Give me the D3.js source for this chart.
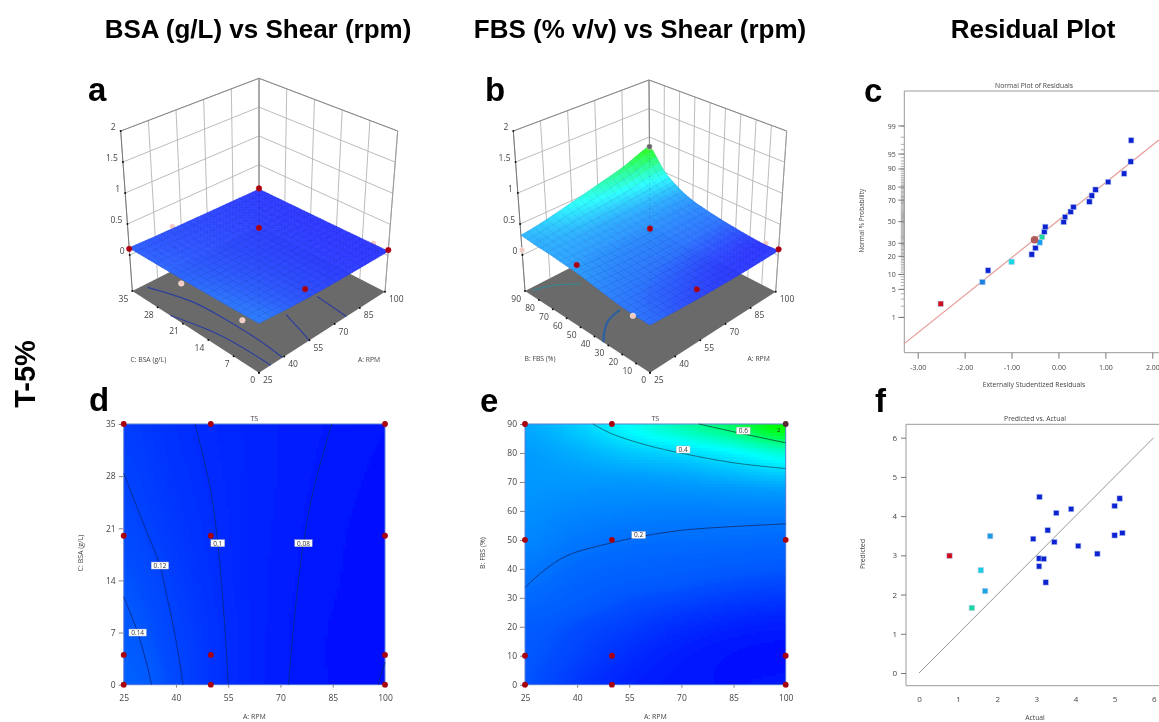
<!DOCTYPE html>
<html><head><meta charset="utf-8">
<script src="https://cdn.jsdelivr.net/npm/d3@7"></script>
<style>
html,body{margin:0;padding:0;background:#fff;overflow:hidden}
svg{display:block}
text{font-family:"Open Sans",sans-serif;fill:#444}
.head{font-family:"Liberation Sans",sans-serif;font-weight:700;fill:#000}
</style></head><body>
<svg id="c" width="1159" height="722"></svg>
<script>
// ---------- values ----------
const headers=["BSA (g/L) vs Shear (rpm)","FBS (% v/v) vs Shear (rpm)","Residual Plot"];
const rowLabel="T-5%";
const rpmTicks=[25,40,55,70,85,100];
const bsaTicks=[0,7,14,21,28,35];
const fbsTicks=[0,10,20,30,40,50,60,70,80,90];
const zTicks=[0,0.5,1,1.5,2];
// response TS, rows = BSA ticks, columns = RPM ticks
const tsBsa=[
[.16,.125,.100,.085,.075,.070],
[.145,.120,.100,.085,.075,.070],
[.135,.115,.098,.086,.077,.070],
[.125,.110,.097,.087,.078,.072],
[.120,.106,.096,.088,.080,.074],
[.115,.103,.095,.088,.082,.076]];
// response TS, rows = FBS ticks, columns = RPM ticks
const tsFbs=[
[.135,.110,.090,.080,.075,.080],
[.140,.120,.100,.085,.075,.070],
[.150,.130,.115,.100,.090,.085],
[.180,.155,.135,.125,.115,.110],
[.215,.180,.165,.155,.145,.140],
[.250,.215,.195,.190,.185,.180],
[.270,.250,.240,.235,.235,.235],
[.290,.290,.290,.300,.320,.340],
[.300,.330,.370,.400,.450,.520],
[.320,.380,.470,.570,.680,.840]];
// contours in data coordinates [rpm, factor]
const contBsa=[
{level:"0.14",pts:[[33,0],[31.5,3],[29,7],[27,9.5],[25,11.8]],at:[29,7]},
{level:"0.12",pts:[[42,0],[40,6],[37,12.7],[35.4,16],[30.6,21.7],[25,28.4]],at:[35.4,16]},
{level:"0.1",pts:[[55,0],[54,8],[52,19],[50,26],[45.5,35]],at:[52,19]},
{level:"0.08",pts:[[72.3,0],[74,9],[76.6,19],[79.4,26],[84.7,35]],at:[76.6,19]},
{level:"",pts:[[98,0],[100,3]],at:null}];
const contFbs=[
{level:"0.2",pts:[[25,33.5],[30,39],[37,44.5],[50,49],[57.7,51],[70,53.3],[85,54.6],[100,55.5]],at:[57.7,51.7],col:"#10337c"},
{level:"0.4",pts:[[44.5,90],[50,86.6],[60,82.7],[70.5,79.8],[85,76.6],[100,74.6]],at:[70.5,81.2],col:"#0b6b78"},
{level:"0.6",pts:[[75,90],[87,86.8],[100,83.5]],at:[87.8,87.7],col:"#0a5a3a"},
{level:"2",pts:[],at:[98,88],col:"#000"}];
const floorContBsa=[
{pts:[[32,34],[39,24.7],[40.4,16],[40.3,6.9],[39,0]]},
{pts:[[25,24.5],[31,13.5],[32,0]]},
{pts:[[55,0],[61,9.3]]},
{pts:[[77,0],[79,9]]}];
const floorContFbs=[
{pts:[[28,88],[38,84],[47,76]],col:"#2c8a9a",w:1},
{pts:[[25,33.5],[30,39],[37,44.5],[46,47]],col:"#2f5f9f",w:2.4}];
const design2dBsa=[[25,35],[50,35],[100,35],[25,20],[50,20],[100,20],[25,4],[50,4],[100,4],[25,0],[50,0],[100,0]];
const design2dFbs=[[25,90],[50,90],[100,90],[25,50],[50,50],[100,50],[25,10],[50,10],[100,10],[25,0],[50,0],[100,0]];
// 3D points [rpm, factor, response, kind]
const pts3dBsa=[[50,35,.134,"p"],[100,4,.083,"p"],[25,21,.05,"q"],[25,4.5,.055,"q"],[25,35,.10,"r"],[100,35,.09,"r"],[62.5,17.5,.51,"r"],[56,2,.13,"r"],[100,0,.09,"r"]];
const pts3dFbs=[[25,90,.08,"q"],[100,9,.10,"p"],[25,12,.117,"q"],[25,51,.38,"r"],[62.5,45,.5,"r"],[56,4.5,.135,"r"],[100,0,.10,"r"],[100,90,.83,"g"]];
// normal plot: studentized residual, probability %, colour
const normalX=[-2.51,-1.62,-1.50,-1.00,-.57,-.49,-.40,-.35,-.30,-.28,.11,.14,.26,.32,.66,.71,.79,1.06,1.40,1.54,1.55];
const normalP=[2.3,7.1,11.8,16.5,21.3,26.1,30.7,35.5,40.4,45,49.7,54.5,59.6,63.9,68.7,73.7,78.2,83.3,87.9,92.8,97.6];
const normalC=["#d0101c","#1a80e0","#0a20d0","#14d8e0","#0a20d0","#0a20d0","#18a0f0","#18d8a0","#0a20d0","#0a20d0","#0a20d0","#0a20d0","#0a20d0","#0a20d0","#0a20d0","#0a20d0","#0a20d0","#0a20d0","#0a20d0","#0a20d0","#0a20d0"];
const probTicks=[1,5,10,20,30,50,70,80,90,95,99];
const normalLineX=[-3.30,2.14];
const normalLineP=[.146,97.65];
const normalCircle=[-.51,33];
const resTicks=[-3,-2,-1,0,1,2];
// predicted vs actual
const actual=[.78,1.82,1.58,1.69,1.35,2.92,3.08,3.29,3.51,3.89,3.46,3.07,3.19,3.07,3.24,4.07,4.56,5.00,5.13,5.00,5.20];
const predicted=[2.99,3.49,2.62,2.09,1.66,3.42,4.49,3.64,4.08,4.18,3.34,2.92,2.91,2.72,2.31,3.24,3.04,4.26,4.45,3.51,3.57];
const predC=["#d0101c","#1a9ae0","#14d0e0","#18a8e0","#18d8a0","#0a20d0","#0a20d0","#0a20d0","#0a20d0","#0a20d0","#0a20d0","#0a20d0","#0a20d0","#0a20d0","#0a20d0","#0a20d0","#0a20d0","#0a20d0","#0a20d0","#0a20d0","#0a20d0"];
const sixTicks=[0,1,2,3,4,5,6];

// ---------- helpers ----------
const svg=d3.select("#c");
const defs=svg.append("defs");
defs.append("filter").attr("id","soft")
 .attr("filterUnits","userSpaceOnUse").attr("x",0).attr("y",0).attr("width",1159).attr("height",722)
 .append("feGaussianBlur").attr("stdDeviation",0.7);
const root=svg.append("g").attr("filter","url(#soft)");
const colorScale=d3.scaleLinear().domain([.06,.14,.30,.46,.8]).range(["#0000ff","#0058ff","#009cff","#00ffff","#00ff00"]).clamp(true);
function cr(a,b,c,d,t){return .5*(2*b+(c-a)*t+(2*a-5*b+4*c-d)*t*t+(3*b-a-3*c+d)*t*t*t);}
function interp1(arr,t){ // t in index units
  const n=arr.length-1,i=Math.max(0,Math.min(n-1,Math.floor(t))),f=t-i;
  const g=k=>arr[Math.max(0,Math.min(n,k))];
  return cr(g(i-1),g(i),g(i+1),g(i+2),f);
}
function gridFn(grid,xTicks,yTicks){
  const xi=d3.scaleLinear().domain(d3.extent(xTicks)).range([0,xTicks.length-1]);
  const yi=d3.scaleLinear().domain(d3.extent(yTicks)).range([0,yTicks.length-1]);
  return (x,y)=>interp1(grid.map(r=>interp1(r,xi(x))),yi(y));
}
function txt(g,x,y,s,o={}){
  const t=g.append("text").attr("x",x).attr("y",y).text(s)
   .attr("font-size",o.size||8).attr("text-anchor",o.anchor||"middle")
   .attr("dominant-baseline","central").style("fill",o.fill||"#444");
  if(o.rot)t.attr("transform",`rotate(${o.rot} ${x} ${y})`);
  return t;
}
function letter(s,x,y){root.append("text").attr("class","head").attr("x",x).attr("y",y).attr("font-size",33).text(s);}

// ---------- headers ----------
[[258,0],[640,1],[1033,2]].forEach(([x,i])=>root.append("text").attr("class","head").attr("x",x).attr("y",38).attr("font-size",26).attr("text-anchor","middle").text(headers[i]));
root.append("text").attr("class","head").attr("font-size",29).attr("text-anchor","middle")
 .attr("transform","translate(35,374) rotate(-90)").text(rowLabel);
letter("a",88,101);letter("b",485,101);letter("c",864,102);letter("d",89,411);letter("e",480,412);letter("f",875,412);

// ---------- 3D panels ----------
function surface3d(o){
  const g=root.append("g");
  const zFloor=-.58;
  const uS=d3.scaleLinear().domain(d3.extent(o.xTicks)).range([0,1]);
  const vS=d3.scaleLinear().domain(d3.extent(o.yTicks)).range([0,1]);
  const wS=d3.scaleLinear().domain([zFloor,2]).range([0,1]);
  const bl=(c,u,v)=>[0,1].map(i=>(1-u)*(1-v)*c.front[i]+u*(1-v)*c.right[i]+(1-u)*v*c.left[i]+u*v*c.back[i]);
  const P=(x,y,z)=>{const u=uS(x),v=vS(y),w=wS(z),a=bl(o.floor,u,v),b=bl(o.top,u,v);return [a[0]+(b[0]-a[0])*w,a[1]+(b[1]-a[1])*w];};
  const xMin=o.xTicks[0],xMax=o.xTicks[o.xTicks.length-1],yMin=o.yTicks[0],yMax=o.yTicks[o.yTicks.length-1];
  const seg=(a,b,c,w)=>g.append("line").attr("x1",a[0]).attr("y1",a[1]).attr("x2",b[0]).attr("y2",b[1]).attr("stroke",c).attr("stroke-width",w);
  // walls
  o.xTicks.forEach(t=>seg(P(t,yMax,zFloor),P(t,yMax,2),"#b4b4b4",.9));
  o.yTicks.forEach(t=>seg(P(xMax,t,zFloor),P(xMax,t,2),"#b4b4b4",.9));
  zTicks.forEach(z=>{seg(P(xMin,yMax,z),P(xMax,yMax,z),"#b4b4b4",.9);seg(P(xMax,yMax,z),P(xMax,yMin,z),"#b4b4b4",.9);});
  seg(P(xMin,yMax,2),P(xMax,yMax,2),"#888",1);seg(P(xMax,yMax,2),P(xMax,yMin,2),"#888",1);
  seg(P(xMin,yMax,zFloor),P(xMin,yMax,2),"#777",1);seg(P(xMax,yMin,zFloor),P(xMax,yMin,2),"#999",1);seg(P(xMax,yMax,zFloor),P(xMax,yMax,2),"#888",1);
  // floor
  const f=[P(xMin,yMin,zFloor),P(xMax,yMin,zFloor),P(xMax,yMax,zFloor),P(xMin,yMax,zFloor)];
  g.append("polygon").attr("points",f.join(" ")).attr("fill","#6b6b6b");
  const flat=d3.line().x(d=>P(d[0],d[1],zFloor)[0]).y(d=>P(d[0],d[1],zFloor)[1]).curve(d3.curveCatmullRom);
  o.floorLines.forEach(c=>g.append("path").attr("d",flat(c.pts)).attr("fill","none").attr("stroke",c.col||"#2c3f9c").attr("stroke-width",c.w||1.2));
  // axis ticks
  const dot=(p,r)=>g.append("circle").attr("cx",p[0]).attr("cy",p[1]).attr("r",r||1).attr("fill","#111");
  zTicks.forEach(z=>{const p=P(xMin,yMax,z);dot(p);txt(g,p[0]-5,p[1]-5,String(z),{anchor:"end",size:8.5});});
  o.xTicks.forEach(t=>{const p=P(t,yMin,zFloor);dot(p);txt(g,p[0]+4,p[1]+7,String(t),{anchor:"start",size:8.5});});
  o.yTicks.forEach(t=>{const p=P(xMin,t,zFloor);dot(p);txt(g,p[0]-4,p[1]+7,String(t),{anchor:"end",size:8.5});});
  txt(g,o.xLabel[1],o.labY,o.xLabel[0],{size:6.8});
  txt(g,o.yLabel[1],o.labY,o.yLabel[0],{size:6.8});
  const ptColor={r:"#a80010",p:"#f3c9c0",q:"#f3c9c0",g:"#666"};
  const drawPts=k=>o.pts.filter(d=>k.includes(d[3])).forEach(d=>{
    const p=P(d[0],d[1],d[2]);
    g.append("circle").attr("cx",p[0]).attr("cy",p[1]).attr("r",2.8).attr("fill",ptColor[d[3]]).attr("stroke",d[3]=="r"?"#c01020":"#fff").attr("stroke-width",.4);
  });
  drawPts(["p"]);
  // surface as quads
  const n=40,m=20,xs=d3.range(n+1).map(i=>xMin+(xMax-xMin)*i/n),ys=d3.range(n+1).map(i=>yMin+(yMax-yMin)*i/n);
  const tint=c=>d3.interpolateRgb(c,"#ffffff")(.18);
  const quads=[];
  for(let j=n-1;j>=0;j--)for(let i=n-1;i>=0;i--)quads.push([i,j]);
  const qc=([i,j])=>tint(colorScale(o.fn(xs[i]+(xs[1]-xs[0])/2,ys[j]+(ys[1]-ys[0])/2)));
  g.append("g").selectAll("polygon").data(quads).join("polygon")
   .attr("points",([i,j])=>[[i,j],[i+1,j],[i+1,j+1],[i,j+1]].map(([a,b])=>P(xs[a],ys[b],o.fn(xs[a],ys[b]))).join(" "))
   .attr("fill",qc).attr("stroke",qc).attr("stroke-width",.6);
  const mesh=d3.line();
  d3.range(0,n+1,n/m).forEach(k=>{
    g.append("path").attr("d",mesh(ys.map(y=>P(xs[k],y,o.fn(xs[k],y))))).attr("fill","none").attr("stroke","#000050").attr("stroke-opacity",.13).attr("stroke-width",.6);
    g.append("path").attr("d",mesh(xs.map(x=>P(x,ys[k],o.fn(x,ys[k]))))).attr("fill","none").attr("stroke","#000050").attr("stroke-opacity",.13).attr("stroke-width",.6);
  });
  seg(P(xMax,yMax,o.fn(xMax,yMax)),P(xMin,yMin,o.fn(xMin,yMin)),"rgba(0,0,60,.18)",.7).attr("stroke-dasharray","1 2");
  drawPts(["q","r","g"]);
}
surface3d({xTicks:rpmTicks,yTicks:bsaTicks,fn:gridFn(tsBsa,rpmTicks,bsaTicks),
  floor:{front:[259,372.7],right:[385,291.7],left:[132.3,291],back:[259,227]},
  top:{front:[259,200.7],right:[397.7,131],left:[120.7,131],back:[259,78.3]},
  floorLines:floorContBsa,pts:pts3dBsa,xLabel:["A: RPM",369],yLabel:["C: BSA (g/L)",148.3],labY:359.3});
surface3d({xTicks:rpmTicks,yTicks:fbsTicks,fn:gridFn(tsFbs,rpmTicks,fbsTicks),
  floor:{front:[650,372.7],right:[775.7,291.7],left:[525,291],back:[650,227]},
  top:{front:[650,200.7],right:[786.7,131],left:[513.3,131],back:[649,80]},
  floorLines:floorContFbs,pts:pts3dFbs,xLabel:["A: RPM",758.7],yLabel:["B: FBS (%)",540],labY:358.7});

// ---------- contour maps ----------
function heat(o){
  const g=root.append("g");
  const x=d3.scaleLinear().domain(d3.extent(o.xTicks)).range([o.x0,o.x1]);
  const y=d3.scaleLinear().domain(d3.extent(o.yTicks)).range([o.y0,o.y1]);
  const step=3,cells=[];
  for(let px=o.x0;px<o.x1;px+=step)for(let py=o.y1;py<o.y0;py+=step)cells.push([px,py]);
  g.append("g").attr("shape-rendering","crispEdges").selectAll("rect").data(cells).join("rect")
   .attr("x",d=>d[0]).attr("y",d=>d[1])
   .attr("width",d=>Math.min(step+.5,o.x1-d[0])).attr("height",d=>Math.min(step+.5,o.y0-d[1]))
   .attr("fill",d=>colorScale(o.fn(x.invert(d[0]+step/2),y.invert(d[1]+step/2))));
  g.append("rect").attr("x",o.x0).attr("y",o.y1).attr("width",o.x1-o.x0).attr("height",o.y0-o.y1).attr("fill","none").attr("stroke","#5a80d8").attr("stroke-width",1);
  const line=d3.line().x(d=>x(d[0])).y(d=>y(d[1])).curve(d3.curveCatmullRom);
  o.cont.forEach(c=>{if(c.pts.length)g.append("path").attr("d",line(c.pts)).attr("fill","none").attr("stroke",c.col||"#0a2a8a").attr("stroke-width",.9);});
  const ax=g.append("g").attr("transform",`translate(0,${o.y0})`).call(d3.axisBottom(x).tickValues(o.xTicks).tickFormat(d3.format("d")).tickSize(3).tickPadding(7));
  const ay=g.append("g").attr("transform",`translate(${o.x0},0)`).call(d3.axisLeft(y).tickValues(o.yTicks).tickFormat(d3.format("d")).tickSize(5).tickPadding(3));
  [ax,ay].forEach(a=>{a.select(".domain").remove();a.selectAll("line").attr("stroke","#888");a.selectAll("text").attr("font-size",8.5).style("font-family",'"Open Sans"').style("fill","#444");});
  txt(g,(o.x0+o.x1)/2,418,"TS",{size:7});
  txt(g,(o.x0+o.x1)/2,716,"A: RPM",{size:7});
  txt(g,o.ylx,553,o.ylab,{size:7,rot:-90});
  o.cont.forEach(c=>{if(!c.at)return;
    const px=x(c.at[0]),py=y(c.at[1]);
    if(c.level==="2"){txt(g,px,py,c.level,{size:6,fill:"#222"});return;}
    const w=c.level.length*3.6+3;
    g.append("rect").attr("x",px-w/2).attr("y",py-3.5).attr("width",w).attr("height",7).attr("fill","#fff").attr("stroke","#aaa").attr("stroke-width",.4);
    txt(g,px,py,c.level,{size:6.5,fill:"#333"});
  });
  o.pts.forEach(d=>g.append("circle").attr("cx",x(d[0])).attr("cy",y(d[1])).attr("r",2.9).attr("fill",(d[0]==100&&d[1]==90)?"#5a2a30":"#a80010"));
}
heat({xTicks:rpmTicks,yTicks:bsaTicks,fn:gridFn(tsBsa,rpmTicks,bsaTicks),x0:123.7,x1:385,y0:684.7,y1:424,cont:contBsa,pts:design2dBsa,ylab:"C: BSA (g/L)",ylx:80});
heat({xTicks:rpmTicks,yTicks:fbsTicks,fn:gridFn(tsFbs,rpmTicks,fbsTicks),x0:525,x1:785.7,y0:684.7,y1:424,cont:contFbs,pts:design2dFbs,ylab:"B: FBS (%)",ylx:482.3});

// ---------- normal plot ----------
function probit(p){
 const a=[-3.969683028665376e+01,2.209460984245205e+02,-2.759285104469687e+02,1.383577518672690e+02,-3.066479806614716e+01,2.506628277459239e+00],
 b=[-5.447609879822406e+01,1.615858368580409e+02,-1.556989798598866e+02,6.680131188771972e+01,-1.328068155288572e+01],
 c=[-7.784894002430293e-03,-3.223964580411365e-01,-2.400758277161838e+00,-2.549732539343734e+00,4.374664141464968e+00,2.938163982698783e+00],
 d=[7.784695709041462e-03,3.224671290700398e-01,2.445134137142996e+00,3.754408661907416e+00];
 const tailN=q=>(((((c[0]*q+c[1])*q+c[2])*q+c[3])*q+c[4])*q+c[5])/((((d[0]*q+d[1])*q+d[2])*q+d[3])*q+1);
 if(p<.02425)return tailN(Math.sqrt(-2*Math.log(p)));
 if(p>1-.02425)return -tailN(Math.sqrt(-2*Math.log(1-p)));
 const q=p-.5,r=q*q;
 return (((((a[0]*r+a[1])*r+a[2])*r+a[3])*r+a[4])*r+a[5])*q/(((((b[0]*r+b[1])*r+b[2])*r+b[3])*r+b[4])*r+1);
}
function frame(g,x0,y0,y1){
  g.append("path").attr("d",`M1165,${y1}H${x0}V${y0}H1165`).attr("fill","none").attr("stroke","#999").attr("stroke-width",1);
}
function square(g,cx,cy,c){
  g.append("rect").attr("x",cx-2.7).attr("y",cy-2.7).attr("width",5.4).attr("height",5.4).attr("fill",c).attr("stroke","#b8c8f0").attr("stroke-width",.6);
}
(function(){
  const g=root.append("g");
  const x0=904.3,y0=352.7,y1=91;
  const x=d3.scaleLinear().domain([-3,2]).range([917.7,1152.3]);
  const yz=d3.scaleLinear().domain([0,probit(.99)]).range([221.7,126]);
  const y=p=>yz(probit(p/100));
  frame(g,x0,y0,y1);
  d3.range(1,100).forEach(p=>g.append("line").attr("x1",x0-3.5).attr("x2",x0).attr("y1",y(p)).attr("y2",y(p)).attr("stroke","#888").attr("stroke-width",.7));
  const ay=g.append("g").attr("transform",`translate(${x0},0)`);
  probTicks.forEach(p=>{ay.append("line").attr("x1",-6).attr("x2",0).attr("y1",y(p)).attr("y2",y(p)).attr("stroke","#777");txt(ay,-8.5,y(p),String(p),{anchor:"end",size:7});});
  const ax=g.append("g").attr("transform",`translate(0,${y0})`).call(d3.axisBottom(x).tickValues(resTicks).tickFormat(d=>d.toFixed(2)).tickSize(6).tickPadding(6));
  ax.select(".domain").remove();ax.selectAll("line").attr("stroke","#777");ax.selectAll("text").attr("font-size",7).style("font-family",'"Open Sans"').style("fill","#444");
  txt(g,1034,85,"Normal Plot of Residuals",{size:6.8});
  txt(g,1034,384,"Externally Studentized Residuals",{size:6.8});
  txt(g,862,220.7,"Normal % Probability",{size:6.5,rot:-90});
  defs.append("clipPath").attr("id","cp").append("rect").attr("x",x0-1).attr("y",y1).attr("width",270).attr("height",y0-y1);
  g.append("line").attr("clip-path","url(#cp)").attr("x1",x(normalLineX[0])).attr("y1",y(normalLineP[0])).attr("x2",x(normalLineX[1])).attr("y2",y(normalLineP[1])).attr("stroke","#e59a98").attr("stroke-width",1.1);
  normalX.forEach((v,i)=>square(g,x(v),y(normalP[i]),normalC[i]));
  g.append("circle").attr("cx",x(normalCircle[0])).attr("cy",y(normalCircle[1])).attr("r",3.8).attr("fill","#b05a5c");
})();

// ---------- predicted vs actual ----------
(function(){
  const g=root.append("g");
  const x0=906,y0=685.7,y1=424.3;
  const x=d3.scaleLinear().domain([0,6]).range([919,1153.7]);
  const y=d3.scaleLinear().domain([0,6]).range([673,437.7]);
  frame(g,x0,y0,y1);
  const ay=g.append("g").attr("transform",`translate(${x0},0)`).call(d3.axisLeft(y).tickValues(sixTicks).tickFormat(d3.format("d")).tickSize(5).tickPadding(4));
  const ax=g.append("g").attr("transform",`translate(0,${y0})`).call(d3.axisBottom(x).tickValues(sixTicks).tickFormat(d3.format("d")).tickSize(0).tickPadding(11));
  [ax,ay].forEach(a=>{a.select(".domain").remove();a.selectAll("line").attr("stroke","#777");a.selectAll("text").attr("font-size",8).style("font-family",'"Open Sans"').style("fill","#444");});
  txt(g,1035,418.7,"Predicted vs. Actual",{size:6.8});
  txt(g,1035,717.7,"Actual",{size:6.8});
  txt(g,862.7,554,"Predicted",{size:6.8,rot:-90});
  g.append("line").attr("x1",x(0)).attr("y1",y(0)).attr("x2",x(6)).attr("y2",y(6)).attr("stroke","#8a8a8a").attr("stroke-width",.9);
  actual.forEach((v,i)=>square(g,x(v),y(predicted[i]),predC[i]));
})();
</script>
</body></html>
